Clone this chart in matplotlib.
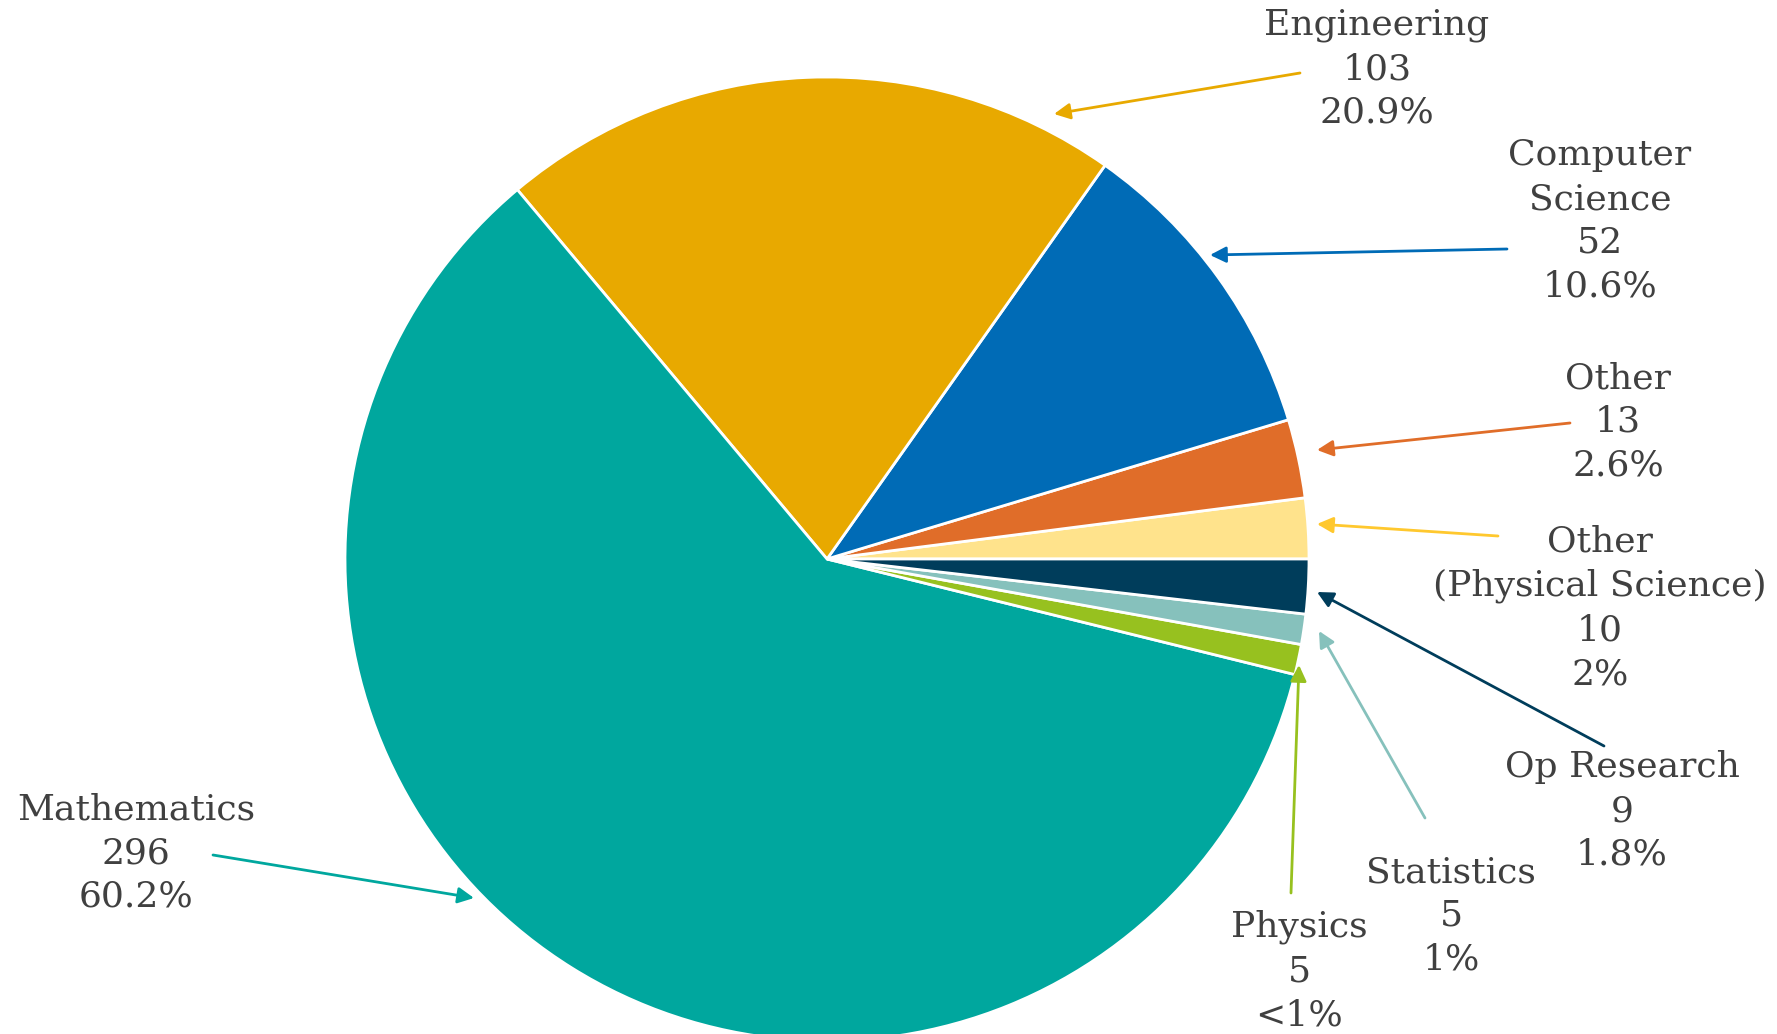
import matplotlib
matplotlib.use("Agg")
import matplotlib.pyplot as plt

# data, in the order the wedges go round (counter-clockwise from 3 o'clock)
fields = ["Other\n(Physical Science)", "Other", "Computer\nScience", "Engineering",
          "Mathematics", "Physics", "Statistics", "Op Research"]
counts = [10, 13, 52, 103, 296, 5, 5, 9]
pct_labels = ["2%", "2.6%", "10.6%", "20.9%", "60.2%", "<1%", "1%", "1.8%"]
colors = ["#FFE38C", "#E06D29", "#006BB6", "#E8A900",
          "#00A79E", "#97C11F", "#86C1BC", "#003D5B"]
arrow_colors = ["#FFC82E", "#E06D29", "#006BB6", "#E8A900",
                "#00A79E", "#97C11F", "#86C1BC", "#003D5B"]

W, H = 1777, 1034

# label layout in pixel coords (from top-left): text centre, arrow tail, arrow tip
text_pos = [(1600, 608), (1618, 422), (1600, 221), (1377, 69),
            (136, 853), (1299, 971), (1451, 916), (1622, 811)]
arrow_from = [(1498, 536), (1570, 423), (1507, 249), (1300, 73),
              (213, 855), (1291, 893), (1425, 818), (1604, 746)]
arrow_to = [(1317, 524), (1317, 450), (1210, 255), (1054, 114),
            (474, 898), (1299, 665), (1319, 631), (1317, 592)]


def px(p):
    return (p[0], H - p[1])


fig = plt.figure(figsize=(W / 100, H / 100), dpi=100)
ax = fig.add_axes([0, 0, 1, 1])

ax.pie(counts, colors=colors, startangle=0, counterclock=True,
       center=px((827, 559)), radius=482,
       wedgeprops=dict(edgecolor="white", linewidth=2))
ax.set_xlim(0, W)
ax.set_ylim(0, H)
ax.set_aspect("equal")
ax.axis("off")

for i, name in enumerate(fields):
    label = f"{name}\n{counts[i]}\n{pct_labels[i]}"
    ax.text(*px(text_pos[i]), label, ha="center", va="center",
            fontsize=26, color="#404040", family="DejaVu Serif",
            linespacing=1.37)
    ax.annotate("", xy=px(arrow_to[i]), xytext=px(arrow_from[i]),
                arrowprops=dict(arrowstyle="-|>", color=arrow_colors[i],
                                lw=2, mutation_scale=24,
                                shrinkA=0, shrinkB=0))

fig.savefig("out.png", dpi=100, facecolor="white")
